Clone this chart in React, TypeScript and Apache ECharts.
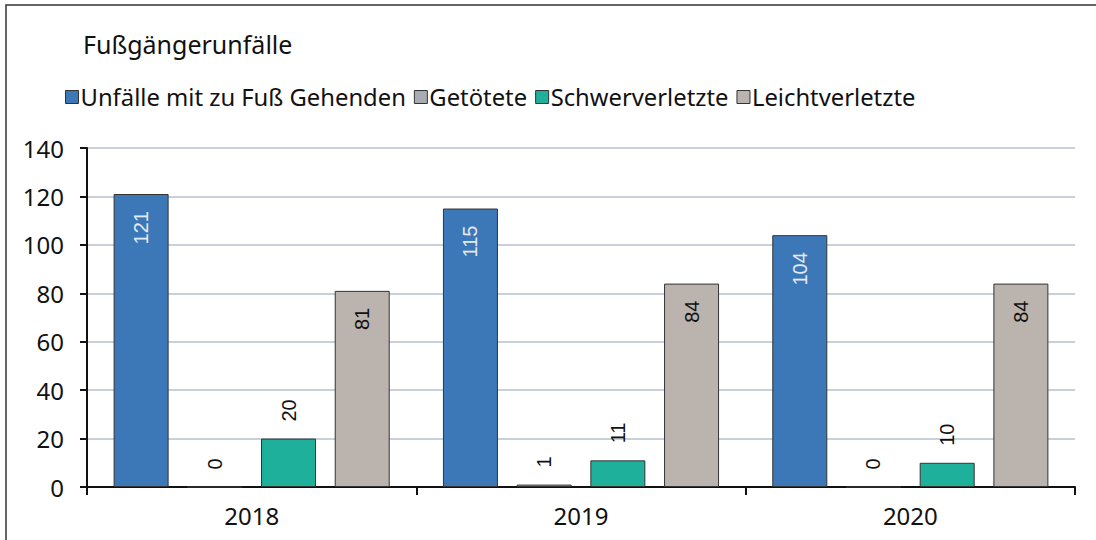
import React, { useEffect, useRef } from "react";
import * as echarts from "echarts";

const categories = ["2018", "2019", "2020"];
const seriesNames = ["Unfälle mit zu Fuß Gehenden", "Getötete", "Schwerverletzte", "Leichtverletzte"];
const unfaelle = [121, 115, 104];
const getoetete = [0, 1, 0];
const schwer = [20, 11, 10];
const leicht = [81, 84, 84];
const yTicks = { min: 0, max: 140, interval: 20 };

const colors = ["#3C78B8", "#A7ACB3", "#1FB09C", "#BBB3AD"];
const FONT = "'Noto Sans', 'Open Sans', sans-serif";
const LABEL_FONT = "'Liberation Sans', Arial, sans-serif";

function makeData(values: number[], labelColor: string) {
  return values.map((v) => {
    const inside = v > 40;
    return {
      value: v,
      label: inside
        ? { position: "insideTop", distance: 17, align: "right", verticalAlign: "middle", color: labelColor }
        : { position: "top", distance: 17, align: "left", verticalAlign: "middle", color: "#111" },
    };
  });
}

export default function App() {
  const ref = useRef<HTMLDivElement>(null);
  useEffect(() => {
    if (!ref.current) return;
    const chart = echarts.init(ref.current, null, { renderer: "svg" });
    const all = [unfaelle, getoetete, schwer, leicht];
    const labelColors = ["#E3EAF3", "#111", "#111", "#111"];
    chart.setOption({
      animation: false,
      backgroundColor: "#fff",
      title: {
        text: "Fußgängerunfälle",
        left: 78,
        top: 26,
        textStyle: { fontFamily: FONT, fontSize: 25, fontWeight: "normal", color: "#111" },
      },
      legend: {
        left: 60,
        top: 80,
        itemWidth: 13,
        itemHeight: 13,
        itemGap: 8,
        icon: "rect",
        textStyle: { fontFamily: FONT, fontSize: 23.8, color: "#111", padding: [0, 0, 0, -3] },
        data: seriesNames.map((n, i) => ({
          name: n,
          itemStyle: { color: colors[i], borderColor: "#333", borderWidth: 1 },
        })),
      },
      graphic: [
        {
          type: "rect",
          shape: { x: 6, y: 5, width: 1200, height: 700 },
          style: { fill: "none", stroke: "#333", lineWidth: 1.5 },
          silent: true,
        },
      ],
      grid: { left: 87, right: 21, top: 148, bottom: 53 },
      xAxis: {
        type: "category",
        data: categories,
        axisLine: { lineStyle: { color: "#111", width: 2 } },
        axisTick: { show: true, length: 8, lineStyle: { color: "#111", width: 2 } },
        axisLabel: { fontFamily: FONT, fontSize: 24, color: "#111", margin: 16 },
      },
      yAxis: {
        type: "value",
        min: yTicks.min,
        max: yTicks.max,
        interval: yTicks.interval,
        axisLine: { show: true, lineStyle: { color: "#111", width: 2 } },
        axisTick: { show: true, length: 7, lineStyle: { color: "#111", width: 2 } },
        axisLabel: { fontFamily: FONT, fontSize: 24, color: "#111", margin: 23 },
        splitLine: { lineStyle: { color: "#B9C1CC", width: 1.5 } },
      },
      series: all.map((vals, i) => ({
        name: seriesNames[i],
        type: "bar",
        barWidth: 55,
        barGap: "34%",
        data: makeData(vals, labelColors[i]),
        itemStyle: { color: colors[i], borderColor: "#333", borderWidth: 1 },
        label: {
          show: true,
          rotate: 90,
          fontFamily: LABEL_FONT,
          fontSize: 20,
        },
      })),
    });
    return () => chart.dispose();
  }, []);
  return (
    <div
      ref={ref}
      style={{ position: "fixed", left: 0, top: 0, width: 1096, height: 540 }}
    />
  );
}
